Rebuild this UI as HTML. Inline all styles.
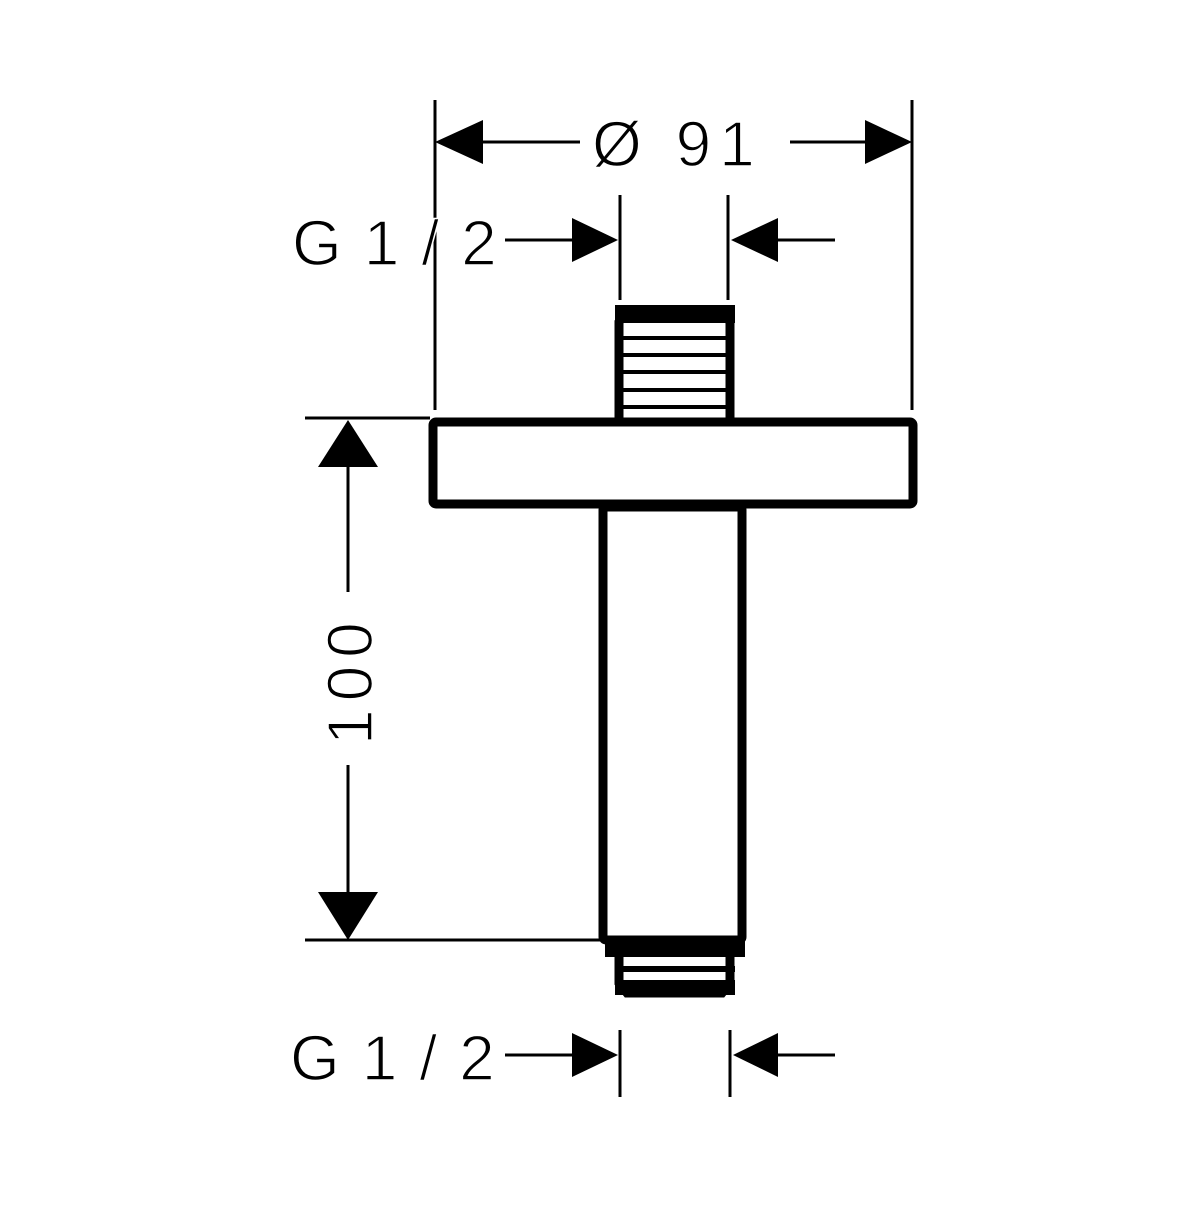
<!DOCTYPE html>
<html><head><style>body{margin:0;background:#fff}</style></head><body>
<svg width="1200" height="1200" viewBox="0 0 1200 1200" xmlns="http://www.w3.org/2000/svg">
<g stroke="#000" fill="none" stroke-width="3">
<line x1="435" y1="100" x2="435" y2="410"/>
<line x1="912" y1="100" x2="912" y2="410"/>
<line x1="483" y1="142" x2="580" y2="142"/>
<line x1="790" y1="142" x2="865" y2="142"/>
<line x1="620" y1="195" x2="620" y2="300"/>
<line x1="728" y1="195" x2="728" y2="300"/>
<line x1="505" y1="240" x2="572" y2="240"/>
<line x1="778" y1="240" x2="835" y2="240"/>
<line x1="620" y1="1030" x2="620" y2="1097"/>
<line x1="730" y1="1030" x2="730" y2="1097"/>
<line x1="505" y1="1055" x2="575" y2="1055"/>
<line x1="778" y1="1055" x2="835" y2="1055"/>
<line x1="305" y1="418" x2="430" y2="418"/>
<line x1="305" y1="940" x2="600" y2="940"/>
<line x1="348" y1="465" x2="348" y2="592"/>
<line x1="348" y1="765" x2="348" y2="892"/>
</g>
<g fill="#000">
<polygon points="435,142 483,120 483,164"/>
<polygon points="912,142 865,120 865,164"/>
<polygon points="618,240 572,218 572,262"/>
<polygon points="731,240 778,218 778,262"/>
<polygon points="618,1055 572,1033 572,1077"/>
<polygon points="733,1055 778,1033 778,1077"/>
<polygon points="348,420 318,467 378,467"/>
<polygon points="348,940 318,892 378,892"/>
</g>
<g stroke="#000" stroke-width="9" fill="none">
<rect x="433" y="422" width="480" height="82" rx="3"/>
<rect x="603" y="507" width="139" height="433" rx="3"/>
<path d="M619,420 L619,322 L627,310 L722,310 L730,322 L730,420"/>
<path d="M619,946 L619,983 L627,993 L722,993 L730,983 L730,946"/>
</g>
<rect x="615" y="305" width="120" height="18" fill="#000"/>
<g stroke="#000" stroke-width="4">
<line x1="622" y1="338" x2="727" y2="338"/>
<line x1="622" y1="355" x2="727" y2="355"/>
<line x1="622" y1="372" x2="727" y2="372"/>
<line x1="622" y1="390" x2="727" y2="390"/>
<line x1="622" y1="407" x2="727" y2="407"/>
</g>
<rect x="605" y="940" width="140" height="17" fill="#000"/>
<rect x="615" y="966" width="120" height="6" fill="#000"/>
<rect x="615" y="980" width="120" height="15" fill="#000"/>
<g font-family="Liberation Sans, sans-serif" font-size="64" fill="#000" stroke="#fff" stroke-width="1.5">
<text x="592" y="166" letter-spacing="8">Ø 91</text>
<text x="292" y="265" letter-spacing="22">G1/2</text>
<text x="290" y="1080" letter-spacing="22">G1/2</text>
<text x="0" y="0" transform="translate(372,745) rotate(-90)" letter-spacing="8">100</text>
</g>
</svg>
</body></html>
